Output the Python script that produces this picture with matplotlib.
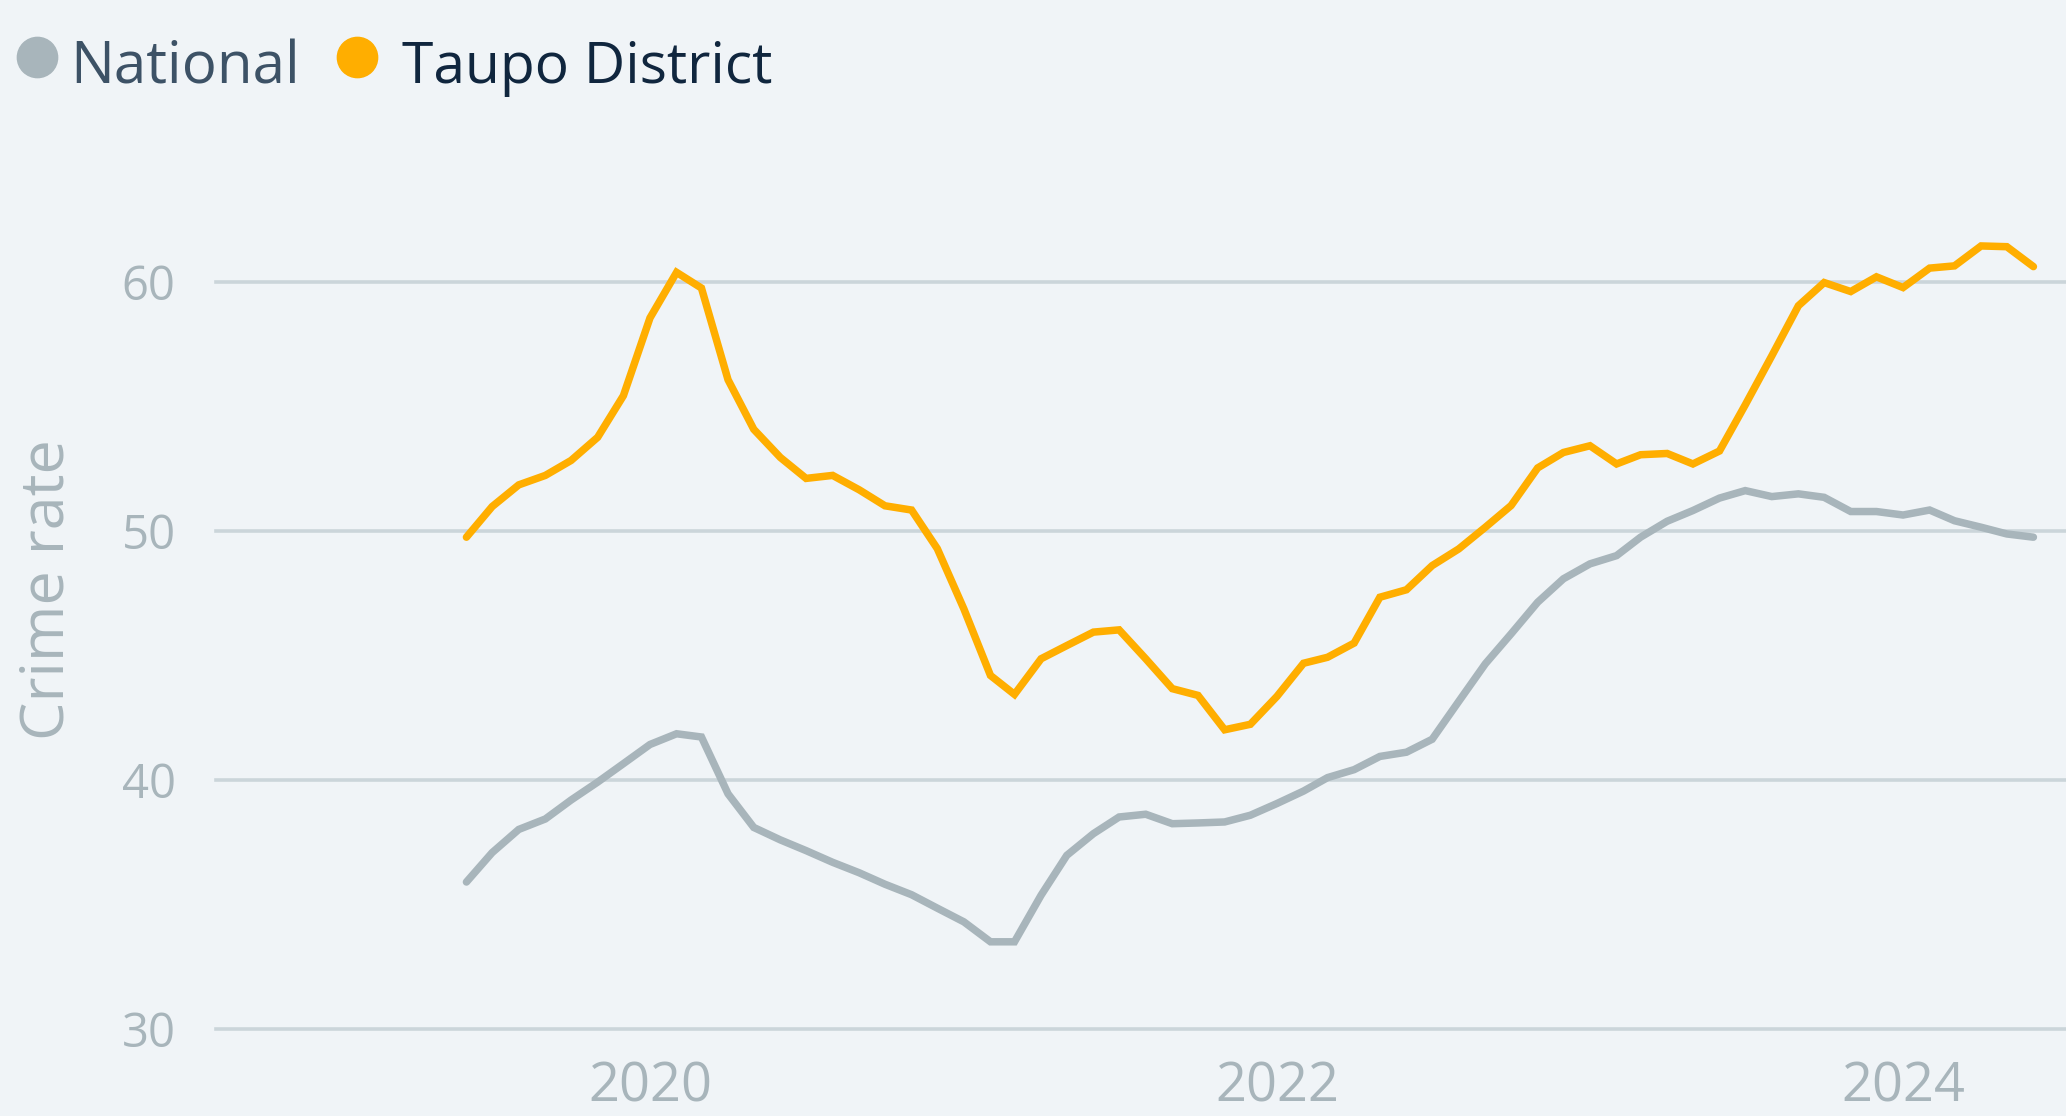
import matplotlib
matplotlib.use("Agg")
import matplotlib.pyplot as plt
from matplotlib.lines import Line2D
import pandas as pd

# ---- data ----
months = pd.date_range("2019-06-01", periods=61, freq="MS")
national = [35.9, 37.08, 38.01, 38.43, 39.19, 39.91, 40.65, 41.42, 41.85, 41.72,
            39.44, 38.09, 37.59, 37.16, 36.69, 36.27, 35.81, 35.39, 34.85, 34.3,
            33.5, 33.5, 35.37, 36.97, 37.84, 38.51, 38.62, 38.24, 38.27, 38.31,
            38.58, 39.05, 39.55, 40.09, 40.41, 40.94, 41.11, 41.63, 43.15, 44.66,
            45.86, 47.13, 48.07, 48.67, 49.0, 49.74, 50.38, 50.81, 51.31, 51.61,
            51.37, 51.48, 51.34, 50.77, 50.77, 50.63, 50.83, 50.4, 50.14, 49.87, 49.74]
taupo = [49.74, 50.97, 51.84, 52.22, 52.82, 53.75, 55.42, 58.54, 60.37, 59.74,
         56.06, 54.07, 52.94, 52.1, 52.22, 51.64, 51.0, 50.83, 49.28, 46.86,
         44.19, 43.43, 44.86, 45.39, 45.93, 46.02, 44.86, 43.66, 43.39, 42.01,
         42.23, 43.35, 44.68, 44.92, 45.49, 47.33, 47.63, 48.6, 49.27, 50.14,
         51.01, 52.52, 53.14, 53.41, 52.68, 53.05, 53.1, 52.68, 53.2, 55.05,
         57.02, 59.03, 59.96, 59.6, 60.19, 59.76, 60.54, 60.63, 61.43, 61.4, 60.6]
series_names = ["National", "Taupo District"]
y_ticks = [30, 40, 50, 60]
x_tick_years = [2020, 2022, 2024]
y_label = "Crime rate"

# ---- style ----
BG = "#F0F4F7"
ORANGE = "#FFAE00"
GRAY = "#A8B5BB"
GRID = "#CBD5DA"
TICK = "#A8B5BB"
FONT = ["Open Sans", "DejaVu Sans"]

W, H = 2066, 1116
fig = plt.figure(figsize=(W / 100, H / 100), dpi=100, facecolor=BG)
ax = fig.add_axes([216 / W, 1 - 1029 / H, 1 - 216 / W, (1029 - 157) / H])
ax.set_facecolor(BG)

ax.plot(months, national, color=GRAY, lw=5.4, solid_capstyle="round",
        solid_joinstyle="miter", zorder=3)
ax.plot(months, taupo, color=ORANGE, lw=5.4, solid_capstyle="round",
        solid_joinstyle="miter", zorder=4)

ax.set_ylim(30, 65)
ax.set_xlim(pd.Timestamp("2018-08-13"), pd.Timestamp("2024-07-09"))
ax.set_yticks(y_ticks)
ax.set_xticks([pd.Timestamp(f"{y}-01-01") for y in x_tick_years])
ax.set_xticklabels([str(y) for y in x_tick_years])
ax.grid(axis="y", color=GRID, lw=2.6)
ax.grid(axis="x", visible=False)
for gl in ax.get_ygridlines():
    gl.set_clip_on(False)
for s in ax.spines.values():
    s.set_visible(False)
ax.tick_params(axis="y", length=0, pad=29, labelsize=34, labelcolor=TICK)
ax.tick_params(axis="x", length=0, pad=22, labelsize=39, labelcolor=TICK)
for lab in ax.get_yticklabels() + ax.get_xticklabels():
    lab.set_fontfamily(FONT)

fig.text(48 / W, 1 - 590 / H, y_label, rotation=90, ha="center", va="center",
         fontsize=44, color=TICK, family=FONT)

# ---- legend (manual) ----
fig.add_artist(Line2D([37 / W], [1 - 57 / H], marker="o", markersize=29,
                      color=GRAY, lw=0, transform=fig.transFigure))
fig.add_artist(Line2D([357 / W], [1 - 57 / H], marker="o", markersize=29,
                      color=ORANGE, lw=0, transform=fig.transFigure))
fig.text(70 / W, 1 - 83 / H, series_names[0], ha="left", va="baseline",
         fontsize=42, color="#3D5266", family=FONT)
fig.text(402 / W, 1 - 83 / H, series_names[1], ha="left", va="baseline",
         fontsize=41, color="#10263E", family=FONT)

fig.savefig("out.png", dpi=100, facecolor=BG)
